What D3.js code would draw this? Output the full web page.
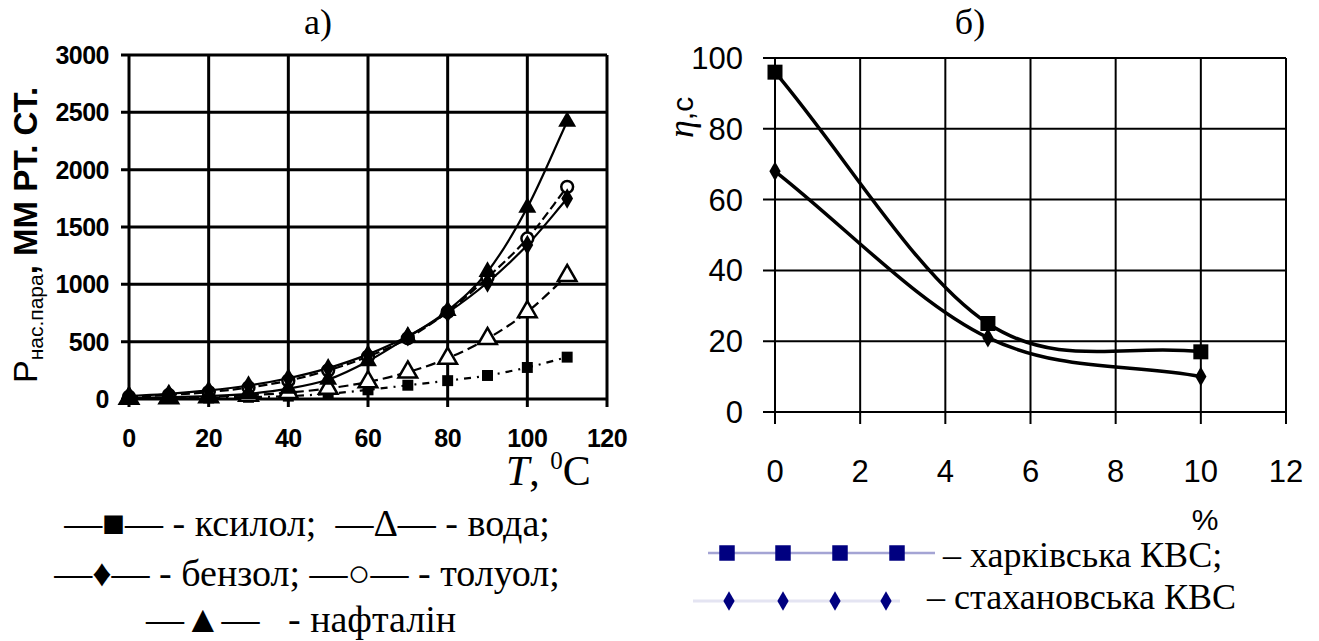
<!DOCTYPE html>
<html><head><meta charset="utf-8">
<script src="https://cdn.jsdelivr.net/npm/d3@7"></script>
<style>body{margin:0;background:#fff}svg{display:block}</style>
</head><body><svg id="c" width="1319" height="641"></svg>
<script>
// ---------- data: chart а) ----------
const temperature = [0, 10, 20, 30, 40, 50, 60, 70, 80, 90, 100, 110];
const xylene      = [3, 5, 9, 15, 25, 45, 80, 120, 160, 205, 275, 365];
const water       = [5, 9, 18, 32, 55, 92, 149, 234, 355, 526, 760, 1075];
const benzene     = [27, 45, 75, 118, 181, 269, 389, 547, 754, 1016, 1344, 1748];
const toluene     = [20, 35, 60, 100, 160, 250, 370, 530, 760, 1060, 1400, 1850];
const naphthalene = [10, 15, 25, 45, 90, 170, 330, 540, 770, 1110, 1670, 2420];
const leftXTicks = [0, 20, 40, 60, 80, 100, 120];
const leftYTicks = [0, 500, 1000, 1500, 2000, 2500, 3000];

// ---------- data: chart б) ----------
const percent   = [0, 5, 10];
const kharkiv   = [96, 25, 17];
const stakhanov = [68, 21, 10];
const rightXTicks = [0, 2, 4, 6, 8, 10, 12];
const rightYTicks = [0, 20, 40, 60, 80, 100];

const svg = d3.select('#c');
const SERIF = "'Liberation Serif','Times New Roman',serif";
const SANS = "'Liberation Sans',Arial,sans-serif";

// smooth curve in the manner of a spreadsheet "smoothed line"
function smoothCurve(context) {
  let pts;
  return {
    areaStart() {}, areaEnd() {},
    lineStart() { pts = []; },
    point(x, y) { pts.push([+x, +y]); },
    lineEnd() {
      const n = pts.length;
      if (!n) return;
      context.moveTo(pts[0][0], pts[0][1]);
      if (n === 2) { context.lineTo(pts[1][0], pts[1][1]); return; }
      for (let i = 0; i < n - 1; i++) {
        const p0 = pts[i], p1 = pts[i + 1];
        const pm = i > 0 ? pts[i - 1] : null, pn = i + 2 < n ? pts[i + 2] : null;
        const c1 = pm ? [p0[0] + (p1[0] - pm[0]) / 6, p0[1] + (p1[1] - pm[1]) / 6]
                      : [p0[0] + (p1[0] - p0[0]) / 3, p0[1] + (p1[1] - p0[1]) / 3];
        const c2 = pn ? [p1[0] - (pn[0] - p0[0]) / 6, p1[1] - (pn[1] - p0[1]) / 6]
                      : [p1[0] - (p1[0] - p0[0]) / 3, p1[1] - (p1[1] - p0[1]) / 3];
        context.bezierCurveTo(c1[0], c1[1], c2[0], c2[1], p1[0], p1[1]);
      }
    }
  };
}

// ================= chart а) =================
const xL = d3.scaleLinear().domain([0, 120]).range([129, 607]);
const yL = d3.scaleLinear().domain([0, 3000]).range([399, 55]);
const gL = svg.append('g');

gL.selectAll('line.h').data(leftYTicks).join('line')
  .attr('x1', xL(0) - 8).attr('x2', xL(120))
  .attr('y1', d => yL(d)).attr('y2', d => yL(d))
  .attr('stroke', '#000').attr('stroke-width', 3);
gL.selectAll('line.v').data(leftXTicks).join('line')
  .attr('x1', d => xL(d)).attr('x2', d => xL(d))
  .attr('y1', yL(3000)).attr('y2', yL(0) + 8)
  .attr('stroke', '#000').attr('stroke-width', 3);

gL.selectAll('text.yl').data(leftYTicks).join('text')
  .attr('x', 109).attr('y', d => yL(d) + 9)
  .attr('text-anchor', 'end').attr('font-family', SANS).attr('font-weight', 'bold')
  .attr('font-size', 25).attr('letter-spacing', -0.5).text(d => d);
gL.selectAll('text.xl').data(leftXTicks).join('text')
  .attr('x', d => xL(d)).attr('y', 447)
  .attr('text-anchor', 'middle').attr('font-family', SANS).attr('font-weight', 'bold')
  .attr('font-size', 25).attr('letter-spacing', -0.5).text(d => d);

// y title
const yt = gL.append('text').attr('transform', 'translate(37,383) rotate(-90)')
  .attr('font-family', SANS).attr('fill', '#000');
yt.append('tspan').attr('font-size', 34).text('P');
yt.append('tspan').attr('font-size', 21).attr('dy', 6).text('нас.пара');
yt.append('tspan').attr('font-size', 33).attr('font-weight', 'bold').attr('dy', -6).text(', ММ РТ. СТ.');

// x title
const xt = gL.append('text').attr('x', 506).attr('y', 485).attr('font-family', SERIF).attr('font-size', 42);
xt.append('tspan').attr('font-style', 'italic').text('T');
xt.append('tspan').text(', ');
xt.append('tspan').attr('font-size', 25).attr('dy', -16).text('0');
xt.append('tspan').attr('dy', 16).text('C');

const leftSeries = [
  {values: xylene, dash: '7,6,2,6', marker: 'square'},
  {values: water, dash: '10,5', marker: 'openTri'},
  {values: toluene, dash: '9,4', marker: 'openCircle'},
  {values: benzene, dash: null, marker: 'diamond'},
  {values: naphthalene, dash: null, marker: 'tri'}
];
const lineL = d3.line().x((d, i) => xL(temperature[i])).y(d => yL(d)).curve(smoothCurve);
leftSeries.forEach(s => {
  gL.append('path').datum(s.values).attr('d', lineL)
    .attr('fill', 'none').attr('stroke', '#000').attr('stroke-width', 2.2)
    .attr('stroke-dasharray', s.dash);
});
leftSeries.forEach(s => {
  const g = gL.append('g');
  const pts = g.selectAll('path').data(s.values).join('path')
    .attr('transform', (d, i) => `translate(${xL(temperature[i])},${yL(d)})`);
  if (s.marker === 'square') pts.attr('d', d3.symbol(d3.symbolSquare, 120)).attr('fill', '#000');
  if (s.marker === 'openTri') pts.attr('d', d3.symbol(d3.symbolTriangle, 150)).attr('fill', '#fff').attr('stroke', '#000').attr('stroke-width', 2.5);
  if (s.marker === 'openCircle') pts.attr('d', d3.symbol(d3.symbolCircle, 110)).attr('fill', '#fff').attr('stroke', '#000').attr('stroke-width', 2.5);
  if (s.marker === 'diamond') pts.attr('d', d3.symbol(d3.symbolDiamond, 120)).attr('fill', '#000');
  if (s.marker === 'tri') pts.attr('d', d3.symbol(d3.symbolTriangle, 140)).attr('fill', '#000');
});

svg.append('text').attr('x', 318).attr('y', 34).attr('text-anchor', 'middle')
  .attr('font-family', SERIF).attr('font-size', 36).text('а)');

// legend а)
const legendLeft = [
  '—■— - ксилол;  —Δ— - вода;',
  '—♦— - бензол; —○— - толуол;',
  '—▲—   - нафталін'
];
const legendLeftX = [307, 307, 301];
const legendLeftY = [536, 586, 632];
svg.selectAll('text.ll').data(legendLeft).join('text')
  .attr('x', (d, i) => legendLeftX[i]).attr('y', (d, i) => legendLeftY[i])
  .attr('text-anchor', 'middle').attr('font-family', SERIF).attr('font-size', 38)
  .style('white-space', 'pre').text(d => d);

// ================= chart б) =================
const xR = d3.scaleLinear().domain([0, 12]).range([775, 1286]);
const yR = d3.scaleLinear().domain([0, 100]).range([412, 58]);
const gR = svg.append('g');

gR.selectAll('line.h').data(rightYTicks).join('line')
  .attr('x1', xR(0) - 12).attr('x2', xR(12))
  .attr('y1', d => yR(d)).attr('y2', d => yR(d))
  .attr('stroke', '#000').attr('stroke-width', 2);
gR.selectAll('line.v').data(rightXTicks).join('line')
  .attr('x1', d => xR(d)).attr('x2', d => xR(d))
  .attr('y1', yR(100)).attr('y2', yR(0) + 12)
  .attr('stroke', '#000').attr('stroke-width', 2);

gR.selectAll('text.yl').data(rightYTicks).join('text')
  .attr('x', 743).attr('y', d => yR(d) + 11)
  .attr('text-anchor', 'end').attr('font-family', SANS).attr('font-size', 31).text(d => d);
gR.selectAll('text.xl').data(rightXTicks).join('text')
  .attr('x', d => xR(d)).attr('y', 482)
  .attr('text-anchor', 'middle').attr('font-family', SANS).attr('font-size', 31).text(d => d);

gR.append('text').attr('x', 1205).attr('y', 530).attr('text-anchor', 'middle')
  .attr('font-family', SANS).attr('font-size', 30).text('%');

const ety = gR.append('text').attr('transform', 'translate(693,138) rotate(-90)');
ety.append('tspan').attr('font-family', SERIF).attr('font-style', 'italic').attr('font-size', 36).text('η');
ety.append('tspan').attr('font-family', SANS).attr('font-size', 30).text(',c');

const lineR = d3.line().x((d, i) => xR(percent[i])).y(d => yR(d)).curve(smoothCurve);
[kharkiv, stakhanov].forEach(v => {
  gR.append('path').datum(v).attr('d', lineR).attr('fill', 'none')
    .attr('stroke', '#000').attr('stroke-width', 3.5);
});
gR.selectAll('path.sq').data(kharkiv).join('path')
  .attr('transform', (d, i) => `translate(${xR(percent[i])},${yR(d)})`)
  .attr('d', d3.symbol(d3.symbolSquare, 225)).attr('fill', '#000');
gR.selectAll('path.di').data(stakhanov).join('path')
  .attr('transform', (d, i) => `translate(${xR(percent[i])},${yR(d)})`)
  .attr('d', d3.symbol(d3.symbolDiamond, 110)).attr('fill', '#000');

svg.append('text').attr('x', 970).attr('y', 34).attr('text-anchor', 'middle')
  .attr('font-family', SERIF).attr('font-size', 36).text('б)');

// legend б)
const lg1 = svg.append('g');
lg1.append('line').attr('x1', 708).attr('x2', 935).attr('y1', 553).attr('y2', 553)
  .attr('stroke', '#a4a4d4').attr('stroke-width', 2.5);
lg1.selectAll('path').data([727, 783, 840, 897]).join('path')
  .attr('transform', d => `translate(${d},553)`)
  .attr('d', d3.symbol(d3.symbolSquare, 240)).attr('fill', '#000080');
lg1.append('text').attr('x', 943).attr('y', 567).attr('font-family', SERIF).attr('font-size', 36)
  .text('– харківська КВС;');
const lg2 = svg.append('g');
lg2.append('line').attr('x1', 693).attr('x2', 900).attr('y1', 601).attr('y2', 601)
  .attr('stroke', '#e4e4f2').attr('stroke-width', 3);
lg2.selectAll('path').data([729, 783, 835, 886]).join('path')
  .attr('transform', d => `translate(${d},601)`)
  .attr('d', d3.symbol(d3.symbolDiamond, 110)).attr('fill', '#000080');
lg2.append('text').attr('x', 927).attr('y', 609).attr('font-family', SERIF).attr('font-size', 36)
  .text('– стахановська КВС');
</script></body></html>
